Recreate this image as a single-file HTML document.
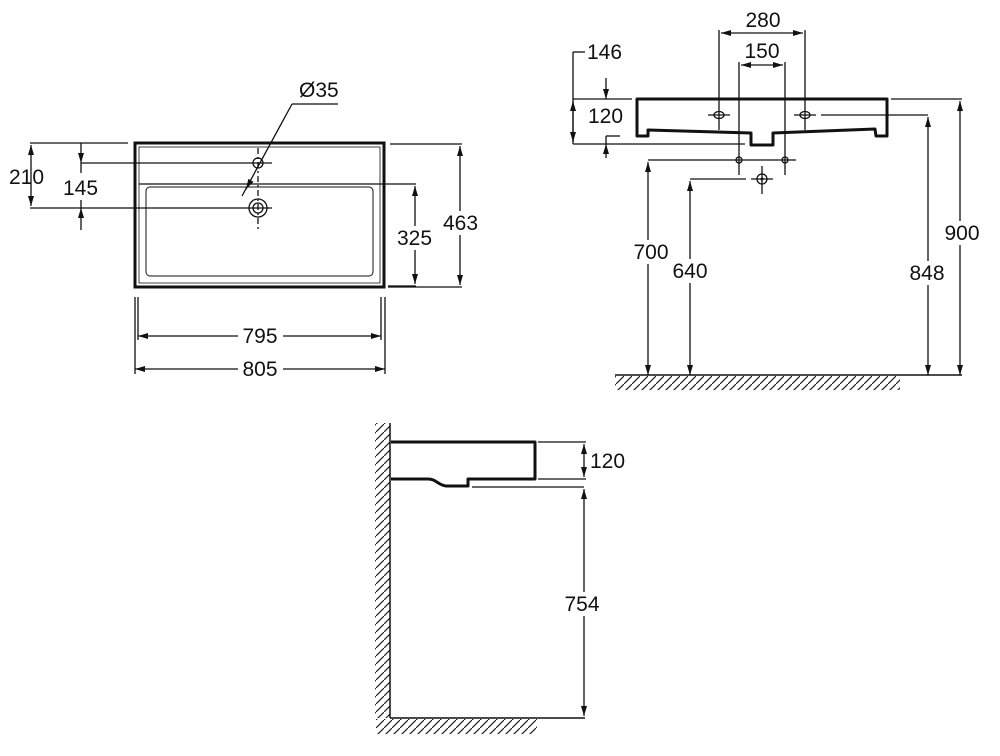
<!DOCTYPE html>
<html><head><meta charset="utf-8"><style>
html,body{margin:0;padding:0;background:#fff;}
svg{display:block;}
text{font-family:"Liberation Sans",Arial,sans-serif;font-size:21px;fill:#111;}
</style></head><body>
<svg width="1000" height="756" viewBox="0 0 1000 756" xmlns="http://www.w3.org/2000/svg">
<defs>
<marker id="a" viewBox="0 0 10 6" refX="10" refY="3" markerWidth="10" markerHeight="6" orient="auto-start-reverse" markerUnits="userSpaceOnUse">
<path d="M0,0 L10,3 L0,6 z" fill="#111"/></marker>
<pattern id="hv" width="8" height="8" patternUnits="userSpaceOnUse">
<path d="M-1,9 L9,-1" stroke="#222" stroke-width="1.2"/></pattern>
</defs>
<g stroke="#111" fill="none" stroke-width="1.3">
<!-- TOP VIEW -->
<rect x="135" y="143" width="249" height="144" stroke-width="3"/>
<rect x="139" y="147" width="241" height="136" stroke-width="0.8"/>
<rect x="146" y="187" width="227" height="89" rx="4" stroke-width="1"/>
<circle cx="258" cy="163" r="5"/>
<circle cx="258" cy="208" r="9"/>
<circle cx="258" cy="208" r="5"/>
<line x1="258" y1="148" x2="258" y2="232" stroke-dasharray="6,3,2,3"/>
<line x1="242" y1="196" x2="292" y2="104"/>
<line x1="292" y1="104" x2="338" y2="104"/>
<path d="M250,182 L246,189" stroke-width="1.5" marker-end="url(#a)"/>
<!-- 210 -->
<line x1="30" y1="143" x2="128" y2="143"/>
<line x1="30" y1="208" x2="272" y2="208"/>
<line x1="31" y1="145" x2="31" y2="206" marker-start="url(#a)" marker-end="url(#a)"/>
<!-- 145 -->
<line x1="81" y1="163" x2="272" y2="163"/>
<line x1="81" y1="143" x2="81" y2="163" marker-end="url(#a)"/>
<line x1="81" y1="230" x2="81" y2="208" marker-end="url(#a)"/>
<line x1="81" y1="163" x2="81" y2="173"/>
<line x1="81" y1="198" x2="81" y2="208"/>
<!-- 325 -->
<line x1="139" y1="184" x2="416" y2="184"/>
<line x1="388" y1="286" x2="416" y2="286"/>
<line x1="415" y1="186" x2="415" y2="284" marker-start="url(#a)" marker-end="url(#a)"/>
<!-- 463 -->
<line x1="390" y1="144" x2="462" y2="144"/>
<line x1="388" y1="287" x2="462" y2="287"/>
<line x1="460" y1="146" x2="460" y2="285" marker-start="url(#a)" marker-end="url(#a)"/>
<!-- 795 / 805 -->
<line x1="135" y1="297" x2="135" y2="374"/>
<line x1="138" y1="297" x2="138" y2="340"/>
<line x1="381" y1="297" x2="381" y2="340"/>
<line x1="385" y1="297" x2="385" y2="374"/>
<line x1="138" y1="336" x2="238" y2="336" marker-start="url(#a)"/>
<line x1="283" y1="336" x2="381" y2="336" marker-end="url(#a)"/>
<line x1="135" y1="369" x2="238" y2="369" marker-start="url(#a)"/>
<line x1="283" y1="369" x2="385" y2="369" marker-end="url(#a)"/>

<!-- SIDE VIEW -->
<path d="M637,99 L887,99 L887,136 L876,136 L875,129 L773,133 L773,145 L751,145 L751,133 L648,130 L648,136 L637,136 Z" stroke-width="3" stroke-linejoin="round"/>
<line x1="573" y1="52" x2="585" y2="52"/>
<line x1="573" y1="52" x2="573" y2="144"/>
<line x1="573" y1="99" x2="632" y2="99"/>
<line x1="573" y1="144" x2="745" y2="144"/>
<line x1="573" y1="101" x2="573" y2="142" marker-start="url(#a)" marker-end="url(#a)"/>
<line x1="606" y1="78" x2="606" y2="99" marker-end="url(#a)"/>
<line x1="606" y1="158" x2="606" y2="144" marker-end="url(#a)"/>
<line x1="606" y1="136" x2="620" y2="136"/>
<line x1="606" y1="136" x2="606" y2="144"/>
<line x1="719" y1="30" x2="719" y2="130"/>
<line x1="805" y1="30" x2="805" y2="130"/>
<line x1="721" y1="33" x2="803" y2="33" marker-start="url(#a)" marker-end="url(#a)"/>
<line x1="739" y1="62" x2="739" y2="175"/>
<line x1="785" y1="62" x2="785" y2="175"/>
<line x1="741" y1="65" x2="783" y2="65" marker-start="url(#a)" marker-end="url(#a)"/>
<ellipse cx="719" cy="115" rx="5" ry="3.5"/><line x1="708" y1="115" x2="730" y2="115"/>
<ellipse cx="805" cy="115" rx="5" ry="3.5"/><line x1="794" y1="115" x2="816" y2="115"/>
<line x1="821" y1="115" x2="928" y2="115"/>
<line x1="928" y1="117" x2="928" y2="375" marker-start="url(#a)" marker-end="url(#a)"/>
<line x1="891" y1="99" x2="962" y2="99"/>
<line x1="960" y1="101" x2="960" y2="375" marker-start="url(#a)" marker-end="url(#a)"/>
<circle cx="739" cy="160" r="3"/><circle cx="785" cy="160" r="3"/>
<line x1="648" y1="160" x2="796" y2="160"/>
<line x1="648" y1="162" x2="648" y2="375" marker-start="url(#a)" marker-end="url(#a)"/>
<circle cx="762" cy="179" r="5"/><circle cx="762" cy="179" r="0.8" fill="#111"/>
<line x1="751" y1="179" x2="773" y2="179"/><line x1="762" y1="166" x2="762" y2="194"/>
<line x1="690" y1="179" x2="746" y2="179"/>
<line x1="690" y1="181" x2="690" y2="375" marker-start="url(#a)" marker-end="url(#a)"/>
<line x1="615" y1="375" x2="962" y2="375" stroke-width="1.5"/>
<rect x="615" y="376" width="285" height="14" fill="url(#hv)" stroke="none"/>

<!-- BOTTOM VIEW -->
<rect x="375" y="423" width="15" height="295" fill="url(#hv)" stroke="none"/>
<line x1="390" y1="423" x2="390" y2="718" stroke-width="1.5"/>
<rect x="376" y="719" width="161" height="15" fill="url(#hv)" stroke="none"/>
<line x1="390" y1="718" x2="585" y2="718" stroke-width="1.5"/>
<path d="M391,442 L535,442 L535,479 L468,479 L468,486 L446,486 C438,485 436,479 428,479 L391,479" stroke-width="3" stroke-linejoin="round"/>
<line x1="538" y1="442" x2="586" y2="442"/>
<line x1="538" y1="479" x2="586" y2="479"/>
<line x1="584" y1="444" x2="584" y2="477" marker-start="url(#a)" marker-end="url(#a)"/>
<line x1="472" y1="487" x2="584" y2="487"/>
<line x1="584" y1="489" x2="584" y2="716" marker-start="url(#a)" marker-end="url(#a)"/>
</g>
<g>
<rect x="638" y="240" width="26" height="24" fill="#fff"/>
<rect x="674" y="259" width="32" height="24" fill="#fff"/>
<rect x="908" y="261" width="38" height="24" fill="#fff"/>
<rect x="943" y="221" width="38" height="24" fill="#fff"/>
<rect x="563" y="592" width="40" height="24" fill="#fff"/>
<rect x="62" y="176" width="40" height="24" fill="#fff"/>
<rect x="396" y="226" width="40" height="24" fill="#fff"/>
<rect x="442" y="211" width="38" height="24" fill="#fff"/>
</g>
<text x="299" y="97">Ø35</text>
<text x="9" y="184">210</text>
<text x="63" y="195">145</text>
<text x="397" y="245">325</text>
<text x="443" y="230">463</text>
<text x="260" y="343" text-anchor="middle">795</text>
<text x="260" y="376" text-anchor="middle">805</text>
<text x="587" y="59">146</text>
<text x="588" y="123">120</text>
<text x="763" y="27" text-anchor="middle">280</text>
<text x="762" y="58" text-anchor="middle">150</text>
<text x="651" y="259" text-anchor="middle">700</text>
<text x="690" y="278" text-anchor="middle">640</text>
<text x="927" y="280" text-anchor="middle">848</text>
<text x="962" y="240" text-anchor="middle">900</text>
<text x="590" y="468">120</text>
<text x="582" y="611" text-anchor="middle">754</text>
</svg>
</body></html>
